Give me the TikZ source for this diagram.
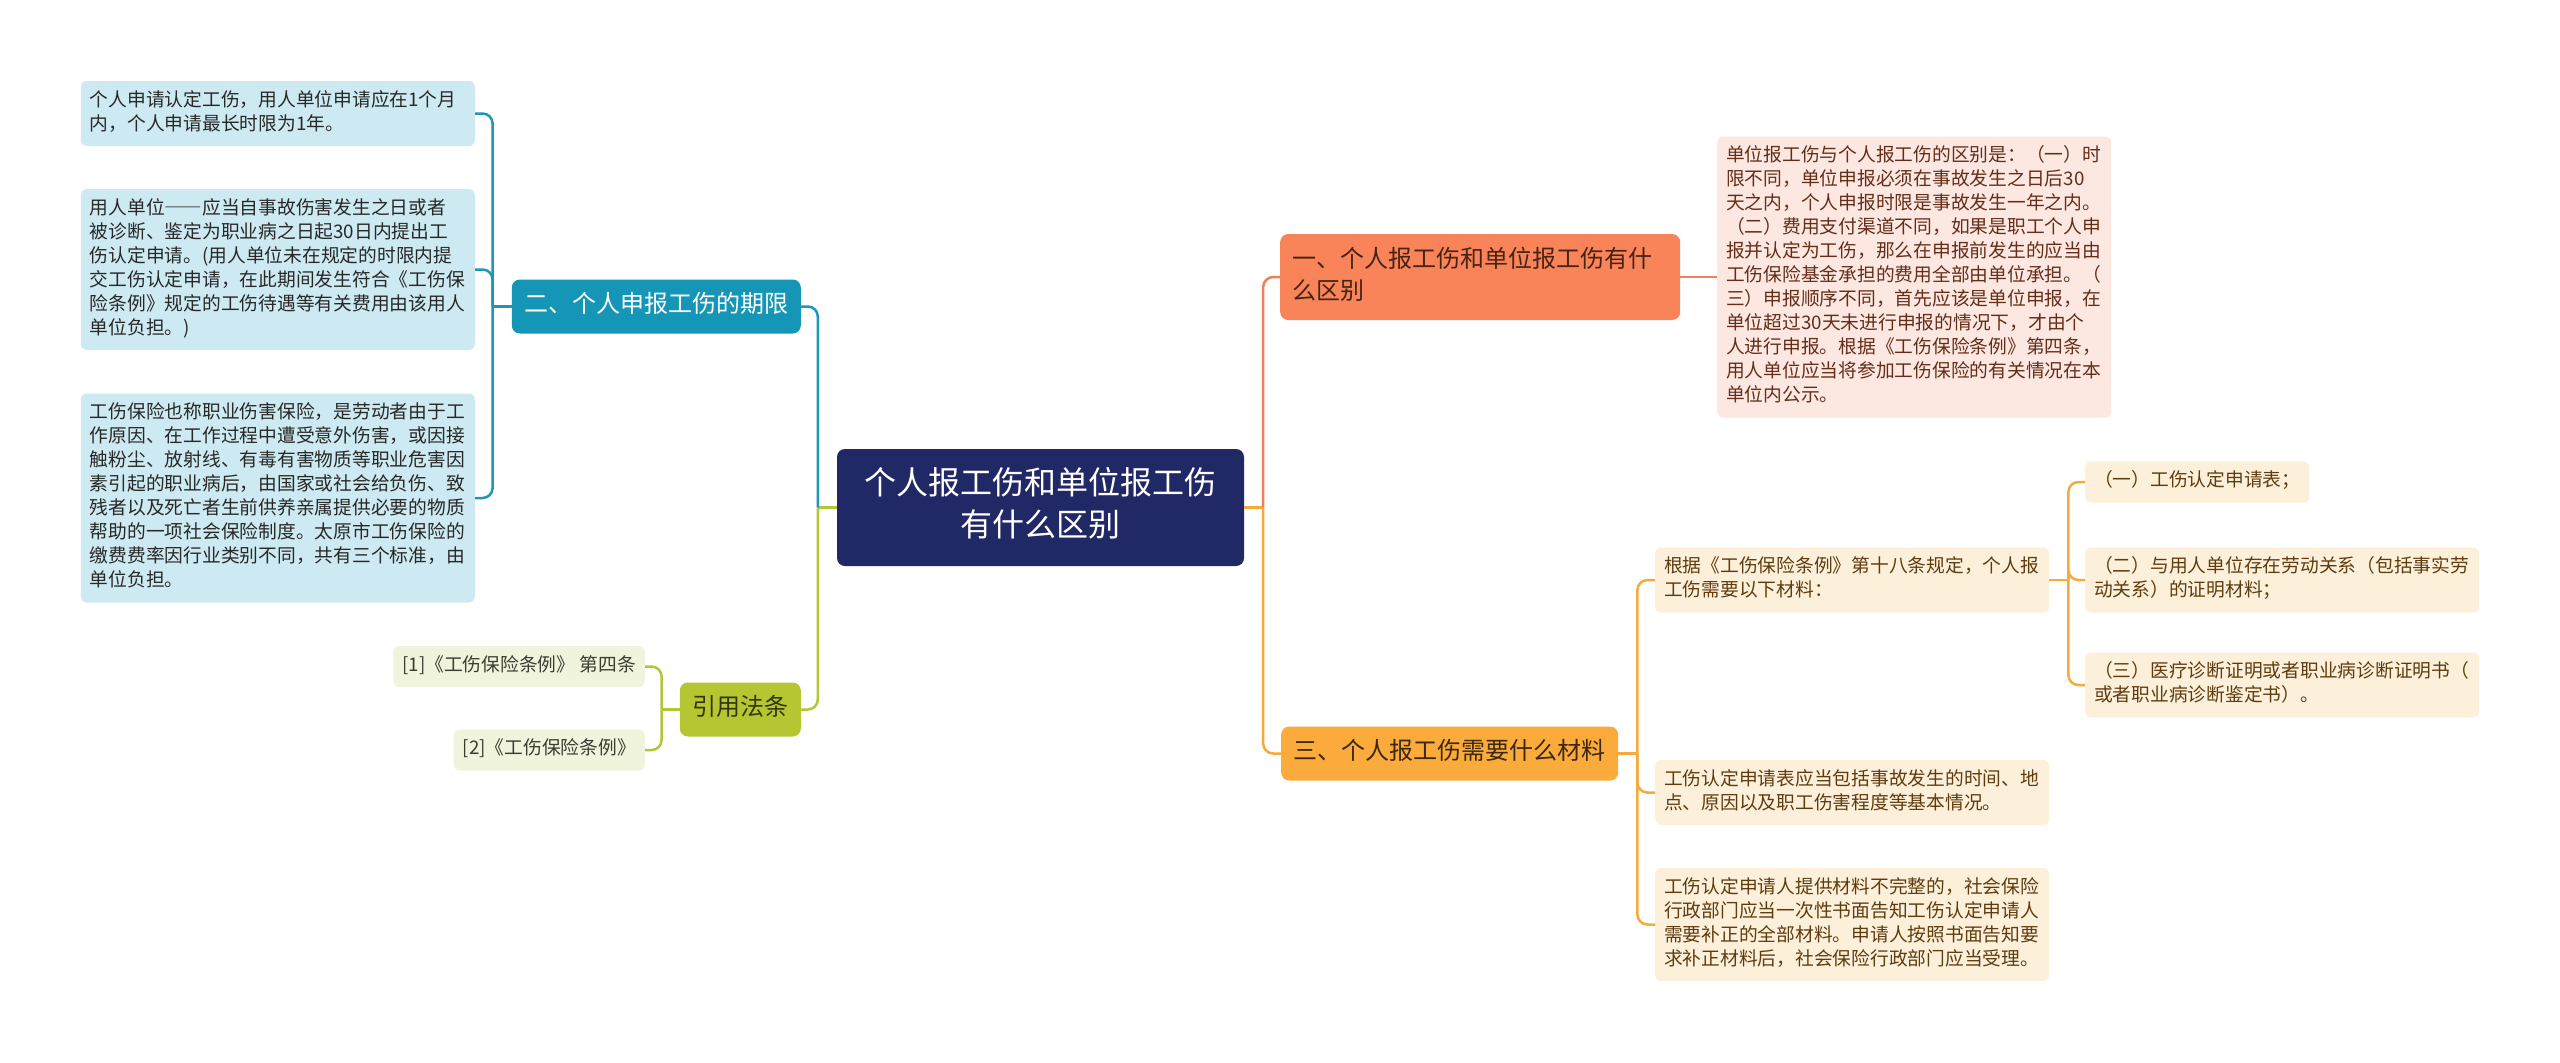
\documentclass[tikz,border=0pt]{standalone}
\usepackage{fontspec}
\setmainfont{Noto Sans CJK SC}

\definecolor{navyfill}{RGB}{32,40,102}
\definecolor{coralfill}{RGB}{249,132,90}
\definecolor{coraltxt}{RGB}{70,35,20}
\definecolor{coralline}{RGB}{235,130,95}
\definecolor{amberfill}{RGB}{251,170,60}
\definecolor{ambertxt}{RGB}{60,40,10}
\definecolor{amberline}{RGB}{245,170,60}
\definecolor{tealfill}{RGB}{22,150,182}
\definecolor{tealline}{RGB}{30,150,180}
\definecolor{limefill}{RGB}{182,198,50}
\definecolor{limetxt}{RGB}{50,55,10}
\definecolor{limeline}{RGB}{180,198,55}
\definecolor{bluefill}{RGB}{205,234,242}
\definecolor{bluetxt}{RGB}{40,40,40}
\definecolor{paleline}{RGB}{240,244,220}
\definecolor{paletxt}{RGB}{60,60,50}
\definecolor{pinkfill}{RGB}{253,232,225}
\definecolor{pinktxt}{RGB}{100,45,25}
\definecolor{creamfill}{RGB}{253,240,218}
\definecolor{creamtxt}{RGB}{95,60,15}

\begin{document}
\begin{tikzpicture}[x=1pt, y=-1pt,
    every node/.style={execute at begin node=\strut, execute at end node=\strut},
    main/.style={fill=navyfill, text=white, rounded corners=8pt, align=center,
      text width=356pt, inner xsep=25.5pt, inner ysep=16.5pt,
      font=\fontsize{32pt}{42pt}\selectfont},
    branch/.style={rounded corners=8pt, align=left, inner xsep=12.5pt, inner ysep=11pt,
      font=\fontsize{24pt}{32pt}\selectfont},
    leaf/.style={rounded corners=6pt, align=left, inner xsep=9pt, inner ysep=8.5pt,
      font=\fontsize{18.75pt}{24pt}\selectfont},
    wide/.style={text width=376pt},
    link/.style={line width=2.5pt, rounded corners=10pt}]
  \useasboundingbox (0,0) rectangle (2560,1063);
  \fill[white] (0,0) rectangle (2560,1063);

  %root
  \node[main] (ctr) at (1040.5,507.5) {个人报工伤和单位报工伤\\有什么区别};

  %branches
  \node[branch, fill=coralfill, text=coraltxt, text width=376pt, inner xsep=12pt, anchor=west] (b1) at (1280,277)
    {一、个人报工伤和单位报工伤有什\\么区别};
  \node[branch, fill=tealfill, text=white, anchor=east] (b2) at (801,306.5) {二、个人申报工伤的期限};
  \node[branch, fill=amberfill, text=ambertxt, anchor=west] (b3) at (1281,753.5) {三、个人报工伤需要什么材料};
  \node[branch, fill=limefill, text=limetxt, anchor=east] (b4) at (801,709.5) {引用法条};

  %left leaves
  \node[leaf, wide, fill=bluefill, text=bluetxt, anchor=east] (l1) at (475,113.5)
    {个人申请认定工伤，用人单位申请应在1个月\\内，个人申请最长时限为1年。};
  \node[leaf, wide, fill=bluefill, text=bluetxt, anchor=east] (l2) at (475,269.5)
    {用人单位{\addfontfeatures{RawFeature=+fwid}——}应当自事故伤害发生之日或者\\被诊断、鉴定为职业病之日起30日内提出工\\伤认定申请。(用人单位未在规定的时限内提\\交工伤认定申请，在此期间发生符合《工伤保\\险条例》规定的工伤待遇等有关费用由该用人\\单位负担。)};
  \node[leaf, wide, fill=bluefill, text=bluetxt, anchor=east] (l3) at (475,498)
    {工伤保险也称职业伤害保险，是劳动者由于工\\作原因、在工作过程中遭受意外伤害，或因接\\触粉尘、放射线、有毒有害物质等职业危害因\\素引起的职业病后，由国家或社会给负伤、致\\残者以及死亡者生前供养亲属提供必要的物质\\帮助的一项社会保险制度。太原市工伤保险的\\缴费费率因行业类别不同，共有三个标准，由\\单位负担。};
  \node[leaf, fill=paleline, text=paletxt, anchor=east] (c1) at (645,666.5) {[1]《工伤保险条例》 第四条};
  \node[leaf, fill=paleline, text=paletxt, anchor=east] (c2) at (645,750) {[2]《工伤保险条例》};

  %right leaves
  \node[leaf, wide, fill=pinkfill, text=pinktxt, anchor=west] (r1) at (1717,277)
    {单位报工伤与个人报工伤的区别是：（一）时\\限不同，单位申报必须在事故发生之日后30\\天之内，个人申报时限是事故发生一年之内。\\（二）费用支付渠道不同，如果是职工个人申\\报并认定为工伤，那么在申报前发生的应当由\\工伤保险基金承担的费用全部由单位承担。（\\三）申报顺序不同，首先应该是单位申报，在\\单位超过30天未进行申报的情况下，才由个\\人进行申报。根据《工伤保险条例》第四条，\\用人单位应当将参加工伤保险的有关情况在本\\单位内公示。};
  \node[leaf, wide, fill=creamfill, text=creamtxt, anchor=west] (r2) at (1655,580)
    {根据《工伤保险条例》第十八条规定，个人报\\工伤需要以下材料：};
  \node[leaf, wide, fill=creamfill, text=creamtxt, anchor=west] (r3) at (1655,792.5)
    {工伤认定申请表应当包括事故发生的时间、地\\点、原因以及职工伤害程度等基本情况。};
  \node[leaf, wide, fill=creamfill, text=creamtxt, anchor=west] (r4) at (1655,924.5)
    {工伤认定申请人提供材料不完整的，社会保险\\行政部门应当一次性书面告知工伤认定申请人\\需要补正的全部材料。申请人按照书面告知要\\求补正材料后，社会保险行政部门应当受理。};
  \node[leaf, fill=creamfill, text=creamtxt, anchor=west] (s1) at (2085,482) {（一）工伤认定申请表；};
  \node[leaf, wide, fill=creamfill, text=creamtxt, anchor=west] (s2) at (2085,580)
    {（二）与用人单位存在劳动关系（包括事实劳\\动关系）的证明材料；};
  \node[leaf, wide, fill=creamfill, text=creamtxt, anchor=west] (s3) at (2085,685)
    {（三）医疗诊断证明或者职业病诊断证明书（\\或者职业病诊断鉴定书）。};

  %links
  \draw[link, limeline] (ctr.west) -- ++(-19,0);
  \draw[link, tealline] (ctr.west) ++(-19,0) |- (b2.east);
  \draw[link, limeline] (ctr.west) ++(-19,0) |- (b4.east);
  \draw[link, amberline] (ctr.east) -- ++(19,0);
  \draw[link, coralline] (ctr.east) ++(19,0) |- (b1.west);
  \draw[link, amberline] (ctr.east) ++(19,0) |- (b3.west);

  \draw[link, tealline] (b2.west) -- ++(-19,0);
  \foreach \n in {l1,l2,l3}
    \draw[link, tealline] (b2.west) ++(-19,0) |- (\n.east);
  \draw[link, limeline] (b4.west) -- ++(-18,0);
  \foreach \n in {c1,c2}
    \draw[link, limeline] (b4.west) ++(-18,0) |- (\n.east);

  \draw[link, coralline] (b1.east) -- (r1.west);
  \draw[link, amberline] (b3.east) -- ++(19,0);
  \foreach \n in {r2,r3,r4}
    \draw[link, amberline] (b3.east) ++(19,0) |- (\n.west);
  \draw[link, amberline] (r2.east) -- ++(19,0);
  \foreach \n in {s1,s2,s3}
    \draw[link, amberline] (r2.east) ++(19,0) |- (\n.west);
\end{tikzpicture}
\end{document}
